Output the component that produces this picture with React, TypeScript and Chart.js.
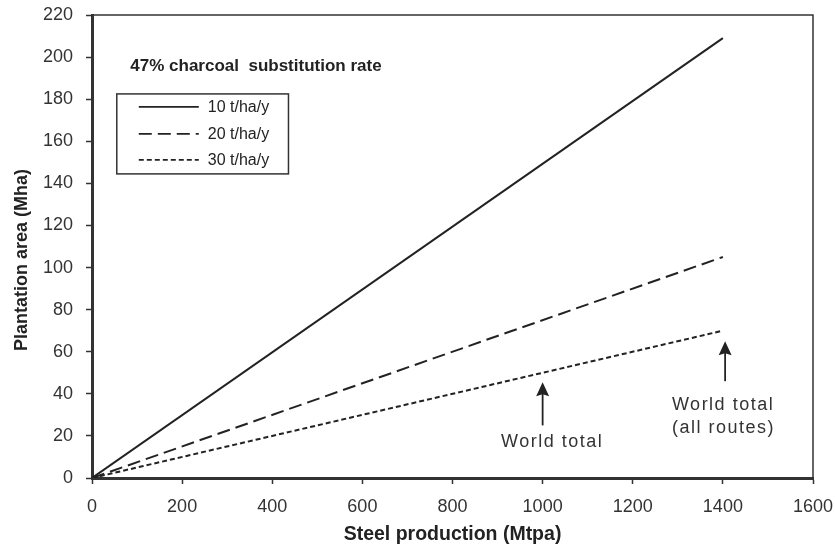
import React, { useEffect, useRef } from "react";
import { Chart, registerables } from "chart.js";

Chart.register(...registerables);

// ---- data ----
const steelProduction = [0, 1400]; // Mtpa
const area10 = [0, 209]; // Mha at 10 t/ha/y
const area20 = [0, 105]; // Mha at 20 t/ha/y
const area30 = [0, 70]; // Mha at 30 t/ha/y
const seriesLabels = ["10 t/ha/y", "20 t/ha/y", "30 t/ha/y"];
const chartTitle = "47% charcoal  substitution rate";
const xTitle = "Steel production (Mtpa)";
const yTitle = "Plantation area (Mha)";
const worldTotalLabel = ["World total"];
const worldAllLabel = ["World total", "(all routes)"];

const FONT = "'Liberation Sans', Arial, Helvetica, sans-serif";
const INK = "#222";
const TXT = "#333";

function toPoints(xs: number[], ys: number[]) {
  return xs.map((x, i) => ({ x, y: ys[i] }));
}

const annotationPlugin = {
  id: "annotations",
  afterDatasetsDraw(chart: any) {
    const { ctx, chartArea, scales } = chart;
    const xs = scales.x;
    const ys = scales.y;
    const px = (v: number) => xs.getPixelForValue(v);
    const py = (v: number) => ys.getPixelForValue(v);
    ctx.save();

    // top / right frame
    ctx.strokeStyle = "#333";
    ctx.lineWidth = 1.5;
    ctx.beginPath();
    ctx.moveTo(chartArea.left, chartArea.top);
    ctx.lineTo(chartArea.right, chartArea.top);
    ctx.lineTo(chartArea.right, chartArea.bottom);
    ctx.stroke();

    // chart title text
    ctx.fillStyle = INK;
    ctx.font = `bold 17px ${FONT}`;
    ctx.textAlign = "left";
    ctx.textBaseline = "alphabetic";
    ctx.fillText(chartTitle, px(85), py(193.5));

    // legend box
    const bx = px(55);
    const by = py(182.5);
    const bw = px(436) - bx;
    const bh = py(144.5) - by;
    ctx.lineWidth = 1.5;
    ctx.strokeStyle = "#333";
    ctx.strokeRect(bx, by, bw, bh);
    const rows = [13, 40, 66];
    chart.data.datasets.forEach((ds: any, i: number) => {
      const yy = by + rows[i];
      ctx.beginPath();
      ctx.setLineDash(ds.borderDash || []);
      ctx.lineWidth = 1.6;
      ctx.strokeStyle = INK;
      ctx.moveTo(bx + 22, yy);
      ctx.lineTo(bx + 82, yy);
      ctx.stroke();
      ctx.setLineDash([]);
      ctx.fillStyle = INK;
      ctx.font = `16px ${FONT}`;
      ctx.textBaseline = "middle";
      ctx.fillText(ds.label, bx + 91, yy + 1);
    });

    // arrows
    const arrow = (xv: number, yTail: number, yTip: number) => {
      const x = px(xv);
      const y0 = py(yTail);
      const y1 = py(yTip);
      ctx.strokeStyle = INK;
      ctx.fillStyle = INK;
      ctx.lineWidth = 1.8;
      ctx.beginPath();
      ctx.moveTo(x, y0);
      ctx.lineTo(x, y1 + 10);
      ctx.stroke();
      ctx.beginPath();
      ctx.moveTo(x, y1);
      ctx.lineTo(x - 6.5, y1 + 14);
      ctx.lineTo(x, y1 + 12);
      ctx.lineTo(x + 6.5, y1 + 14);
      ctx.closePath();
      ctx.fill();
    };
    arrow(1000, 25, 45.5);
    arrow(1405, 46, 65);

    // annotation text
    ctx.fillStyle = TXT;
    ctx.font = `18px ${FONT}`;
    (ctx as any).letterSpacing = "1.5px";
    ctx.textBaseline = "middle";
    ctx.textAlign = "center";
    ctx.fillText(worldTotalLabel[0], px(1021), py(17.3));
    ctx.textAlign = "left";
    ctx.fillText(worldAllLabel[0], px(1287), py(34.7));
    ctx.fillText(worldAllLabel[1], px(1287), py(23.8));
    (ctx as any).letterSpacing = "0px";

    // axis titles
    ctx.fillStyle = INK;
    ctx.font = `bold 19.5px ${FONT}`;
    ctx.textAlign = "center";
    ctx.textBaseline = "middle";
    ctx.fillText(xTitle, (chartArea.left + chartArea.right) / 2, 535);
    ctx.font = `bold 18px ${FONT}`;
    ctx.translate(22, 260);
    ctx.rotate(-Math.PI / 2);
    ctx.fillText(yTitle, 0, 0);

    ctx.restore();
  },
};

export default function App() {
  const ref = useRef<HTMLCanvasElement>(null);
  useEffect(() => {
    const chart = new Chart(ref.current!, {
      type: "line",
      data: {
        datasets: [
          {
            label: seriesLabels[0],
            data: toPoints(steelProduction, area10),
            borderColor: INK,
            borderWidth: 2,
            pointRadius: 0,
          },
          {
            label: seriesLabels[1],
            data: toPoints(steelProduction, area20),
            borderColor: INK,
            borderWidth: 2,
            borderDash: [13, 6],
            pointRadius: 0,
          },
          {
            label: seriesLabels[2],
            data: toPoints(steelProduction, area30),
            borderColor: INK,
            borderWidth: 2,
            borderDash: [5, 3],
            pointRadius: 0,
          },
        ],
      },
      options: {
        animation: false,
        responsive: false,
        layout: { padding: { left: 0, top: 15, right: 22, bottom: 0 } },
        plugins: { legend: { display: false }, tooltip: { enabled: false } },
        scales: {
          x: {
            type: "linear",
            min: 0,
            max: 1600,
            ticks: {
              stepSize: 200,
              color: TXT,
              font: { family: FONT, size: 18 },
              padding: 12,
              maxRotation: 0,
              callback: (v: any) => String(v),
            },
            grid: { display: true, drawOnChartArea: false, drawTicks: true, tickLength: 6, tickColor: "#333", tickWidth: 1.5 },
            border: { display: true, color: "#333", width: 3 },
            afterFit: (s: any) => {
              s.height = 69;
              s.paddingLeft = 0;
              s.paddingRight = 0;
            },
          },
          y: {
            type: "linear",
            min: 0,
            max: 220,
            ticks: {
              stepSize: 20,
              color: TXT,
              font: { family: FONT, size: 18 },
              padding: 13,
              callback: (v: any) => String(v),
            },
            grid: { display: true, drawOnChartArea: false, drawTicks: true, tickLength: 6, tickColor: "#333", tickWidth: 1.5 },
            border: { display: true, color: "#333", width: 3 },
            afterFit: (s: any) => {
              s.width = 92;
              s.paddingTop = 0;
              s.paddingBottom = 0;
            },
          },
        },
      },
      plugins: [annotationPlugin],
    });
    return () => chart.destroy();
  }, []);
  return (
    <div style={{ position: "absolute", left: 0, top: 0, width: 835, height: 547, background: "#fff" }}>
      <canvas ref={ref} width={835} height={547} style={{ display: "block" }} />
    </div>
  );
}
